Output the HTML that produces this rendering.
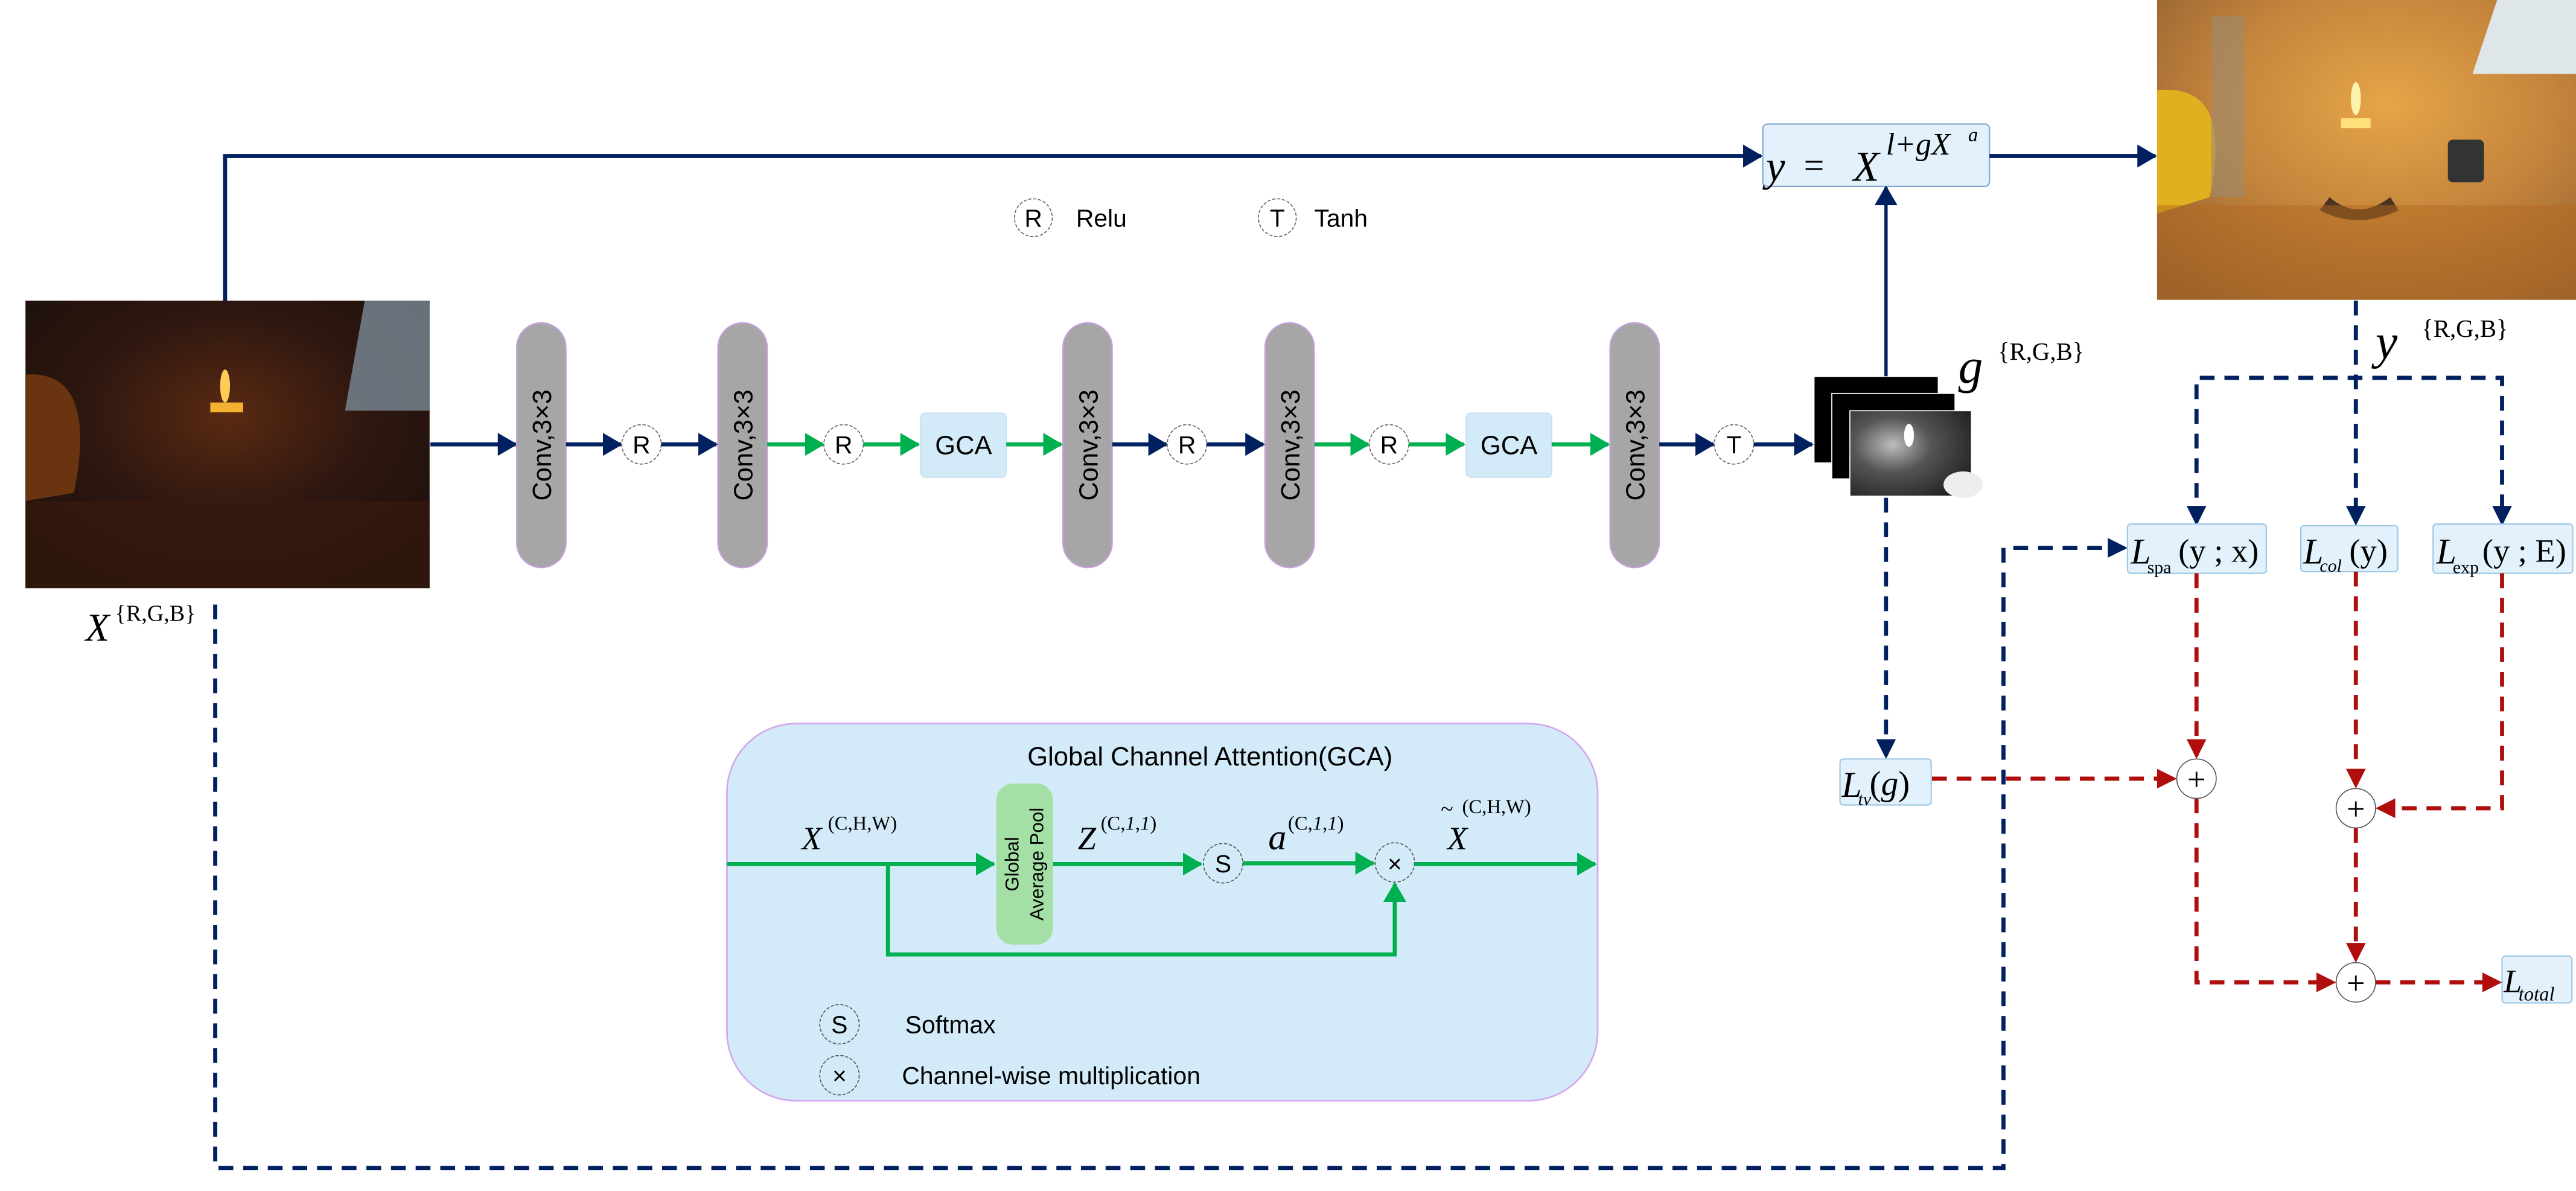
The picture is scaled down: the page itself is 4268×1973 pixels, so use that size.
<!DOCTYPE html>
<html><head><meta charset="utf-8">
<style>
html,body{margin:0;padding:0;background:#fff;}
svg{display:block;}
.t{font-family:"Liberation Sans",sans-serif;fill:#000;}
.m{font-family:"Liberation Serif",serif;fill:#000;}
</style></head>
<body>
<svg width="4268" height="1973" viewBox="0 0 1568 725" preserveAspectRatio="none" xmlns="http://www.w3.org/2000/svg">
<defs>
<marker id="an" markerUnits="userSpaceOnUse" markerWidth="12" markerHeight="14" refX="11" refY="7" orient="auto"><path d="M0,0 L12,7 L0,14 z" fill="#002060"/></marker>
<marker id="ag" markerUnits="userSpaceOnUse" markerWidth="12" markerHeight="14" refX="11" refY="7" orient="auto"><path d="M0,0 L12,7 L0,14 z" fill="#00b050"/></marker>
<marker id="ar" markerUnits="userSpaceOnUse" markerWidth="12" markerHeight="14" refX="11" refY="7" orient="auto"><path d="M0,0 L12,7 L0,14 z" fill="#b00d0d"/></marker>
<radialGradient id="inG" cx="0.5" cy="0.4" r="0.7"><stop offset="0" stop-color="#5a2a12"/><stop offset="0.5" stop-color="#2e1710"/><stop offset="1" stop-color="#1c0f0b"/></radialGradient>
<radialGradient id="outG" cx="0.55" cy="0.35" r="0.8"><stop offset="0" stop-color="#e6a548"/><stop offset="0.5" stop-color="#c4843c"/><stop offset="1" stop-color="#8a5a30"/></radialGradient>
<radialGradient id="gG" cx="0.35" cy="0.4" r="0.8"><stop offset="0" stop-color="#bdbdbd"/><stop offset="0.4" stop-color="#555"/><stop offset="1" stop-color="#1a1a1a"/></radialGradient>
</defs>

<!-- input photo -->
<rect x="15.5" y="183" width="246" height="175" fill="url(#inG)"/>
<polygon points="222,183 261.5,183 261.5,250 210,250" fill="#7a8a96" opacity="0.8"/>
<path d="M15.5,228 Q60,225 45,300 L15.5,305z" fill="#6a3410"/>
<rect x="128" y="245" width="20" height="6" fill="#f4b030"/>
<ellipse cx="137" cy="235" rx="3" ry="10" fill="#ffcc55"/>
<rect x="15.5" y="305" width="246" height="53" fill="#3a1a0e" opacity="0.6"/>

<!-- output photo -->
<rect x="1313" y="0" width="255" height="182.5" fill="url(#outG)"/>
<path d="M1313,55 Q1360,50 1345,120 L1313,130z" fill="#e0b020"/>
<polygon points="1520,0 1568,0 1568,45 1505,45" fill="#dfe6ea"/>
<rect x="1346" y="10" width="20" height="110" fill="#9c8b70" opacity="0.6"/>
<rect x="1425" y="72" width="18" height="6" fill="#ffe07a"/>
<ellipse cx="1434" cy="60" rx="3" ry="10" fill="#fff3b0"/>
<path d="M1418,120 Q1435,135 1455,120 L1460,128 Q1435,140 1412,128z" fill="#4a3420"/>
<rect x="1490" y="85" width="22" height="26" fill="#333" rx="3"/>
<rect x="1313" y="125" width="255" height="57.5" fill="#b46a20" opacity="0.5"/>

<!-- top bypass line -->
<polyline points="137,183 137,95 1072,95" fill="none" stroke="#002060" stroke-width="2.5" marker-end="url(#an)"/>
<rect x="1073" y="75.5" width="138" height="38" rx="3" fill="#e2f1fb" stroke="#7fa6cc" stroke-width="0.8"/>
<text class="m" x="1075" y="110" font-size="26" font-style="italic">y</text>
<text class="m" x="1098" y="108" font-size="22">=</text>
<text class="m" x="1128" y="110" font-size="26" font-style="italic">X</text>
<text class="m" x="1148" y="94" font-size="19" font-style="italic">l+gX</text>
<text class="m" x="1198" y="86" font-size="12" font-style="italic">a</text>
<line x1="1211" y1="95" x2="1312" y2="95" stroke="#002060" stroke-width="2.5" marker-end="url(#an)"/>

<!-- legend R/T -->
<circle cx="629" cy="132.5" r="11.5" fill="#fff" stroke="#666" stroke-width="0.6" stroke-dasharray="2,1"/>
<text class="t" x="629" y="138" font-size="15" text-anchor="middle">R</text>
<text class="t" x="655" y="138" font-size="15">Relu</text>
<circle cx="777.5" cy="132.5" r="11.5" fill="#fff" stroke="#666" stroke-width="0.6" stroke-dasharray="2,1"/>
<text class="t" x="777.5" y="138" font-size="15" text-anchor="middle">T</text>
<text class="t" x="800" y="138" font-size="15">Tanh</text>

<!-- main chain -->
<line x1="262" y1="270.5" x2="314" y2="270.5" stroke="#002060" stroke-width="2.5" marker-end="url(#an)"/>
<g>
<rect x="314.5" y="196.5" width="30" height="149" rx="15" fill="#a6a6a6" stroke="#c9a0e0" stroke-width="0.8"/>
<text class="t" transform="translate(335.5,271) rotate(-90)" font-size="16" text-anchor="middle">Conv,3×3</text>
<rect x="437" y="196.5" width="30" height="149" rx="15" fill="#a6a6a6" stroke="#c9a0e0" stroke-width="0.8"/>
<text class="t" transform="translate(458,271) rotate(-90)" font-size="16" text-anchor="middle">Conv,3×3</text>
<rect x="647" y="196.5" width="30" height="149" rx="15" fill="#a6a6a6" stroke="#c9a0e0" stroke-width="0.8"/>
<text class="t" transform="translate(668,271) rotate(-90)" font-size="16" text-anchor="middle">Conv,3×3</text>
<rect x="770" y="196.5" width="30" height="149" rx="15" fill="#a6a6a6" stroke="#c9a0e0" stroke-width="0.8"/>
<text class="t" transform="translate(791,271) rotate(-90)" font-size="16" text-anchor="middle">Conv,3×3</text>
<rect x="980" y="196.5" width="30" height="149" rx="15" fill="#a6a6a6" stroke="#c9a0e0" stroke-width="0.8"/>
<text class="t" transform="translate(1001,271) rotate(-90)" font-size="16" text-anchor="middle">Conv,3×3</text>
</g>
<line x1="344.5" y1="270.5" x2="378" y2="270.5" stroke="#002060" stroke-width="2.5" marker-end="url(#an)"/>
<circle cx="390.5" cy="270.5" r="12" fill="#fff" stroke="#666" stroke-width="0.6" stroke-dasharray="2,1"/>
<text class="t" x="390.5" y="276" font-size="15" text-anchor="middle">R</text>
<line x1="402.5" y1="270.5" x2="436" y2="270.5" stroke="#002060" stroke-width="2.5" marker-end="url(#an)"/>
<line x1="467" y1="270.5" x2="501" y2="270.5" stroke="#00b050" stroke-width="2.5" marker-end="url(#ag)"/>
<circle cx="513.5" cy="270.5" r="12" fill="#fff" stroke="#666" stroke-width="0.6" stroke-dasharray="2,1"/>
<text class="t" x="513.5" y="276" font-size="15" text-anchor="middle">R</text>
<line x1="525.5" y1="270.5" x2="559" y2="270.5" stroke="#00b050" stroke-width="2.5" marker-end="url(#ag)"/>
<rect x="560.5" y="251.5" width="52" height="39" rx="3" fill="#d3ebf8" stroke="#c9dff0" stroke-width="0.8"/>
<text class="t" x="586.5" y="276.5" font-size="16" text-anchor="middle">GCA</text>
<line x1="612.5" y1="270.5" x2="646" y2="270.5" stroke="#00b050" stroke-width="2.5" marker-end="url(#ag)"/>
<line x1="677" y1="270.5" x2="710" y2="270.5" stroke="#002060" stroke-width="2.5" marker-end="url(#an)"/>
<circle cx="722.5" cy="270.5" r="12" fill="#fff" stroke="#666" stroke-width="0.6" stroke-dasharray="2,1"/>
<text class="t" x="722.5" y="276" font-size="15" text-anchor="middle">R</text>
<line x1="734.5" y1="270.5" x2="769" y2="270.5" stroke="#002060" stroke-width="2.5" marker-end="url(#an)"/>
<line x1="800" y1="270.5" x2="833" y2="270.5" stroke="#00b050" stroke-width="2.5" marker-end="url(#ag)"/>
<circle cx="845.5" cy="270.5" r="12" fill="#fff" stroke="#666" stroke-width="0.6" stroke-dasharray="2,1"/>
<text class="t" x="845.5" y="276" font-size="15" text-anchor="middle">R</text>
<line x1="857.5" y1="270.5" x2="891" y2="270.5" stroke="#00b050" stroke-width="2.5" marker-end="url(#ag)"/>
<rect x="892.5" y="251.5" width="52" height="39" rx="3" fill="#d3ebf8" stroke="#c9dff0" stroke-width="0.8"/>
<text class="t" x="918.5" y="276.5" font-size="16" text-anchor="middle">GCA</text>
<line x1="944.5" y1="270.5" x2="979" y2="270.5" stroke="#00b050" stroke-width="2.5" marker-end="url(#ag)"/>
<line x1="1010" y1="270.5" x2="1043" y2="270.5" stroke="#002060" stroke-width="2.5" marker-end="url(#an)"/>
<circle cx="1055.5" cy="270.5" r="12" fill="#fff" stroke="#666" stroke-width="0.6" stroke-dasharray="2,1"/>
<text class="t" x="1055.5" y="276" font-size="15" text-anchor="middle">T</text>
<line x1="1067.5" y1="270.5" x2="1103" y2="270.5" stroke="#002060" stroke-width="2.5" marker-end="url(#an)"/>

<!-- g stack -->
<line x1="1148" y1="229" x2="1148" y2="114" stroke="#002060" stroke-width="2" marker-end="url(#an)"/>
<rect x="1104.5" y="229.5" width="75" height="52" fill="#000"/>
<rect x="1115" y="239.5" width="75" height="52" fill="#000" stroke="#fff" stroke-width="0.6"/>
<rect x="1126" y="250" width="74" height="52" fill="url(#gG)" stroke="#fff" stroke-width="0.6"/>
<ellipse cx="1162" cy="265" rx="3" ry="7" fill="#fff"/>
<ellipse cx="1195" cy="295" rx="12" ry="8" fill="#eee"/>
<text class="m" x="1192" y="233" font-size="30" font-style="italic">g</text>
<text class="m" x="1216" y="219" font-size="15">{R,G,B}</text>

<!-- y label -->
<text class="m" x="1446" y="218" font-size="30" font-style="italic">y</text>
<text class="m" x="1474" y="205" font-size="15">{R,G,B}</text>

<!-- navy dashed -->
<g fill="none" stroke="#002060" stroke-width="2.5" stroke-dasharray="9,6">
<line x1="1148" y1="303" x2="1148" y2="460"/>
<line x1="1434" y1="183" x2="1434" y2="318"/>
<polyline points="1337,318 1337,230 1523,230 1523,318"/>
<polyline points="131,368 131,711 1219.5,711 1219.5,333.5 1293,333.5"/>
</g>
<g fill="#002060">
<path d="M1142,450 L1154,450 L1148,462z"/>
<path d="M1428,308 L1440,308 L1434,320z"/>
<path d="M1331,308 L1343,308 L1337,320z"/>
<path d="M1517,308 L1529,308 L1523,320z"/>
<path d="M1283,327.5 L1283,339.5 L1295,333.5z"/>
</g>

<!-- loss boxes -->
<rect x="1295" y="319" width="84.5" height="30" rx="2" fill="#e2f1fb" stroke="#9ec8e6" stroke-width="0.8"/>
<text class="m" x="1297" y="343" font-size="22" font-style="italic">L</text>
<text class="m" x="1307" y="349" font-size="11">spa</text>
<text class="m" x="1326" y="342" font-size="20">(y ; x)</text>
<rect x="1400.5" y="320" width="59" height="28" rx="2" fill="#e2f1fb" stroke="#9ec8e6" stroke-width="0.8"/>
<text class="m" x="1402" y="343" font-size="22" font-style="italic">L</text>
<text class="m" x="1412" y="348" font-size="11" font-style="italic">col</text>
<text class="m" x="1430" y="342" font-size="20">(y)</text>
<rect x="1481" y="319" width="85" height="30" rx="2" fill="#e2f1fb" stroke="#9ec8e6" stroke-width="0.8"/>
<text class="m" x="1483" y="343" font-size="22" font-style="italic">L</text>
<text class="m" x="1493" y="349" font-size="11">exp</text>
<text class="m" x="1511" y="342" font-size="20">(y ; E)</text>
<rect x="1120" y="462" width="55.5" height="28" rx="2" fill="#e2f1fb" stroke="#9ec8e6" stroke-width="0.8"/>
<text class="m" x="1121" y="485" font-size="22" font-style="italic">L</text>
<text class="m" x="1131" y="490" font-size="11" font-style="italic">tv</text>
<text class="m" x="1138" y="484" font-size="21">(<tspan font-style="italic">g</tspan>)</text>
<rect x="1523" y="582" width="42.5" height="28.5" rx="2" fill="#e2f1fb" stroke="#9ec8e6" stroke-width="0.8"/>
<text class="m" x="1524" y="604" font-size="20" font-style="italic">L</text>
<text class="m" x="1533" y="609" font-size="12" font-style="italic">total</text>

<!-- red dashed -->
<g fill="none" stroke="#b00d0d" stroke-width="2.5" stroke-dasharray="9,6">
<line x1="1337" y1="349" x2="1337" y2="460"/>
<line x1="1176" y1="474" x2="1323" y2="474"/>
<line x1="1434" y1="348" x2="1434" y2="478"/>
<polyline points="1523,349 1523,492 1449,492"/>
<line x1="1434" y1="504" x2="1434" y2="584"/>
<polyline points="1337,486 1337,598 1419,598"/>
<line x1="1446" y1="598" x2="1520" y2="598"/>
</g>
<g fill="#b00d0d">
<path d="M1331,450 L1343,450 L1337,462z"/>
<path d="M1313,468 L1313,480 L1325,474z"/>
<path d="M1428,468 L1440,468 L1434,480z"/>
<path d="M1458,486 L1458,498 L1446,492z"/>
<path d="M1428,574 L1440,574 L1434,586z"/>
<path d="M1410,592 L1410,604 L1422,598z"/>
<path d="M1511,592 L1511,604 L1523,598z"/>
</g>
<g>
<circle cx="1337" cy="474" r="12" fill="#fff" stroke="#555" stroke-width="0.6"/>
<text class="m" x="1337" y="481" font-size="20" text-anchor="middle">+</text>
<circle cx="1434" cy="492" r="12" fill="#fff" stroke="#555" stroke-width="0.6"/>
<text class="m" x="1434" y="499" font-size="20" text-anchor="middle">+</text>
<circle cx="1434" cy="598" r="12" fill="#fff" stroke="#555" stroke-width="0.6"/>
<text class="m" x="1434" y="605" font-size="20" text-anchor="middle">+</text>
</g>

<!-- input label -->
<text class="m" x="52" y="390" font-size="24" font-style="italic">X</text>
<text class="m" x="70" y="378" font-size="14">{R,G,B}</text>

<!-- GCA panel -->
<rect x="442.5" y="440.5" width="530" height="229.5" rx="42" fill="#d3ebf8" stroke="#d4a8f0" stroke-width="1"/>
<text class="t" x="736.5" y="466" font-size="16" text-anchor="middle">Global Channel Attention(GCA)</text>
<line x1="442.5" y1="526" x2="605" y2="526" stroke="#00b050" stroke-width="2.5" marker-end="url(#ag)"/>
<rect x="606.5" y="477" width="34.5" height="98" rx="10" fill="#a4dfa6"/>
<text class="t" transform="translate(620,526) rotate(-90)" font-size="11.5" text-anchor="middle">Global</text>
<text class="t" transform="translate(635,526) rotate(-90)" font-size="11.5" text-anchor="middle">Average Pool</text>
<line x1="641" y1="526" x2="731" y2="526" stroke="#00b050" stroke-width="2.5" marker-end="url(#ag)"/>
<circle cx="744.5" cy="525.5" r="12" fill="#d3ebf8" stroke="#555" stroke-width="0.6" stroke-dasharray="2,1"/>
<text class="t" x="744.5" y="531" font-size="15" text-anchor="middle">S</text>
<line x1="756.5" y1="525.5" x2="836" y2="525.5" stroke="#00b050" stroke-width="2.5" marker-end="url(#ag)"/>
<circle cx="849" cy="525" r="12" fill="#d3ebf8" stroke="#555" stroke-width="0.6" stroke-dasharray="2,1"/>
<text class="t" x="849" y="531" font-size="15" text-anchor="middle">×</text>
<line x1="861" y1="526" x2="971" y2="526" stroke="#00b050" stroke-width="2.5" marker-end="url(#ag)"/>
<polyline points="540.5,526 540.5,581 849,581 849,538" fill="none" stroke="#00b050" stroke-width="2.5" marker-end="url(#ag)"/>
<text class="m" x="488" y="517" font-size="20" font-style="italic">X</text>
<text class="m" x="504" y="505" font-size="12">(C,H,W)</text>
<text class="m" x="656" y="517" font-size="20" font-style="italic">Z</text>
<text class="m" x="670" y="505" font-size="12">(C,<tspan font-style="italic">1</tspan>,<tspan font-style="italic">1</tspan>)</text>
<text class="m" x="772" y="517" font-size="22" font-style="italic">a</text>
<text class="m" x="784" y="505" font-size="12">(C,<tspan font-style="italic">1</tspan>,<tspan font-style="italic">1</tspan>)</text>
<text class="m" x="881" y="517" font-size="20" font-style="italic">X</text>
<text class="m" x="877" y="497" font-size="14">~</text>
<text class="m" x="890" y="495" font-size="12">(C,H,W)</text>
<circle cx="511" cy="623.5" r="12" fill="#d3ebf8" stroke="#555" stroke-width="0.6" stroke-dasharray="2,1"/>
<text class="t" x="511" y="629" font-size="15" text-anchor="middle">S</text>
<text class="t" x="551" y="629" font-size="15">Softmax</text>
<circle cx="511" cy="654.5" r="12" fill="#d3ebf8" stroke="#555" stroke-width="0.6" stroke-dasharray="2,1"/>
<text class="t" x="511" y="660" font-size="15" text-anchor="middle">×</text>
<text class="t" x="549" y="660" font-size="15">Channel-wise multiplication</text>
</svg>
</body></html>
